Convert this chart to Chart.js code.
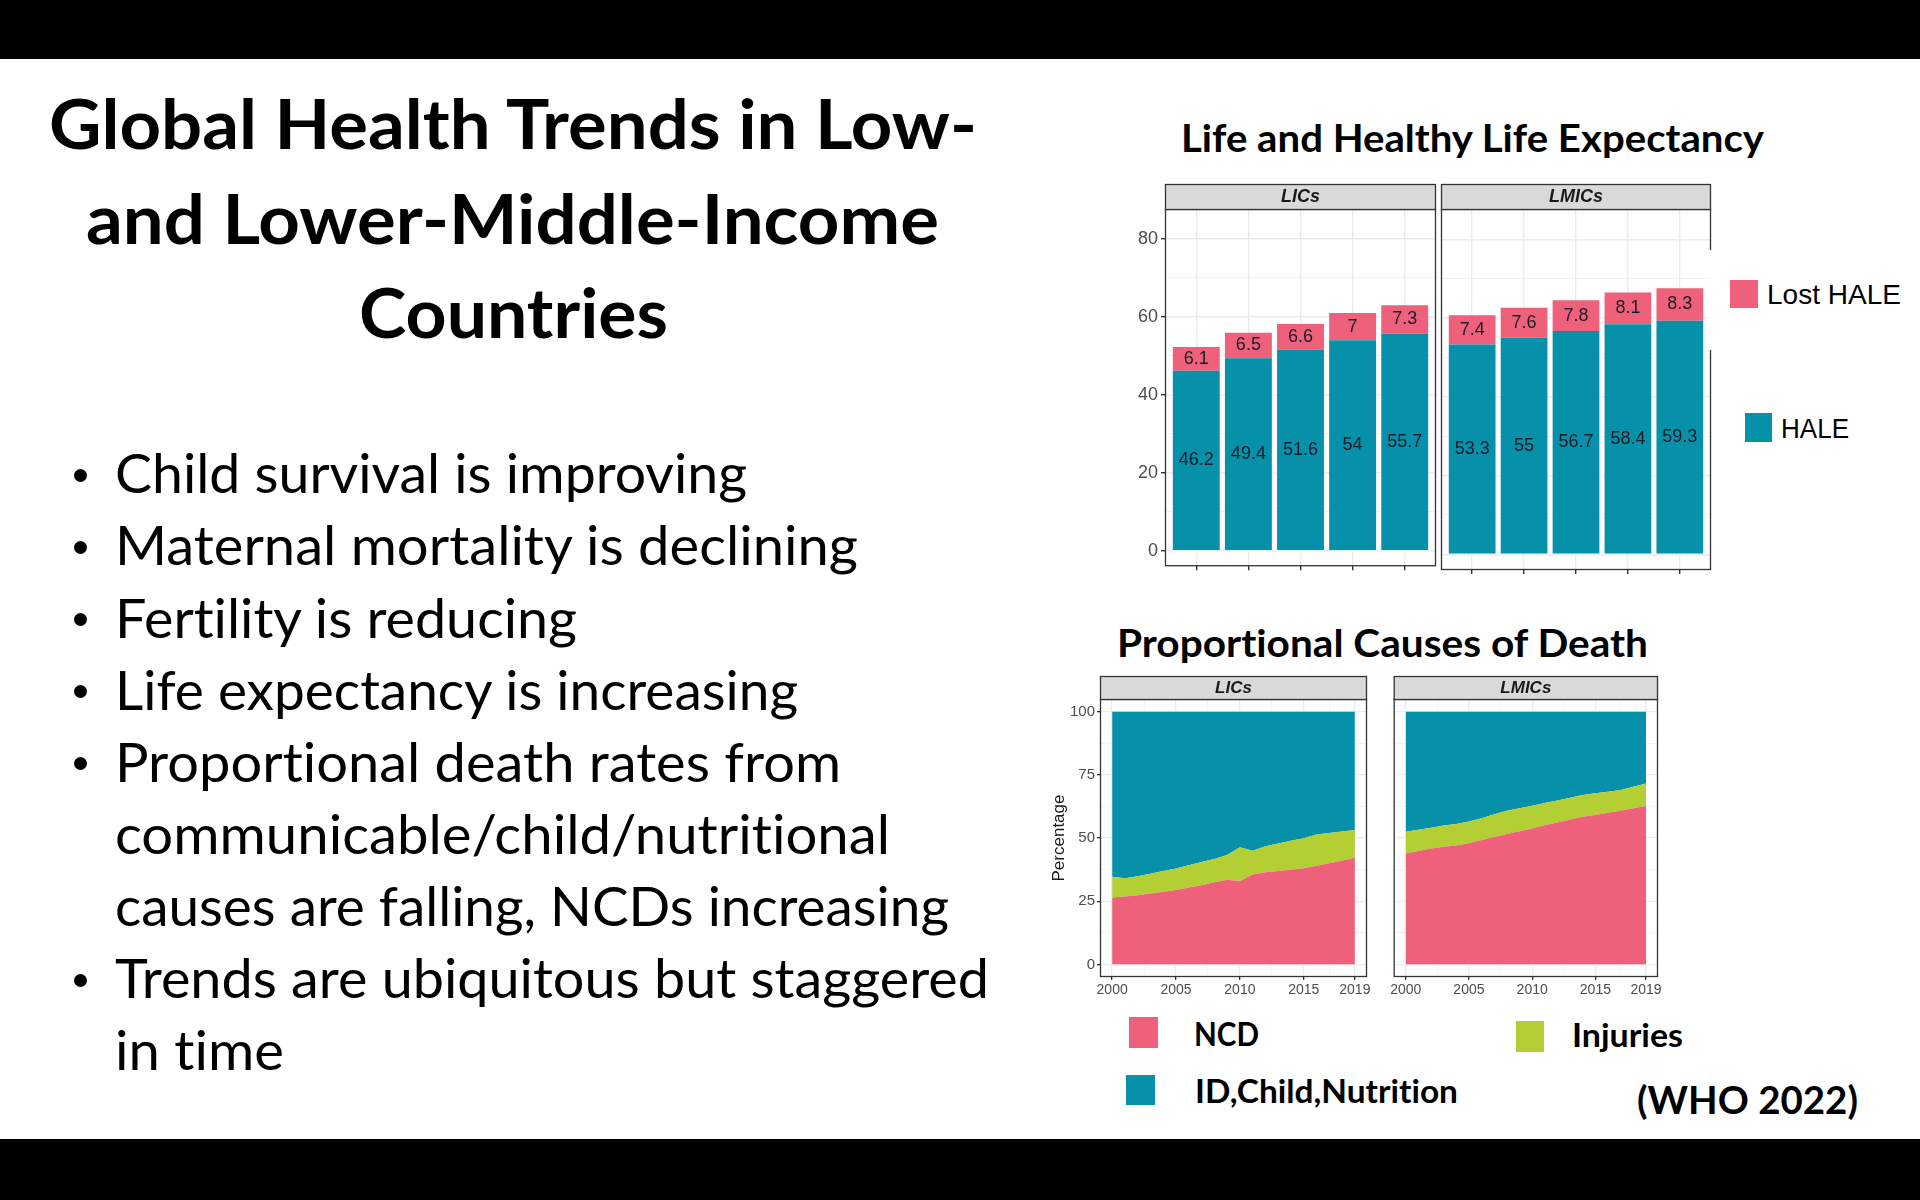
<!DOCTYPE html>
<html>
<head>
<meta charset="utf-8">
<title>Global Health Trends</title>
<script src="https://cdn.jsdelivr.net/npm/chart.js@4.4.1/dist/chart.umd.min.js"></script>
<style>
  html, body { margin: 0; padding: 0; }
  body { width: 1920px; height: 1200px; position: relative; overflow: hidden; background: #ffffff; }
  .band { position: absolute; left: 0; width: 1920px; background: #000000; }
  .txt { position: absolute; white-space: nowrap; color: #000000; transform-origin: 0 0;
         font-variant-ligatures: none; font-feature-settings: "liga" 0, "clig" 0; }
  .sw { position: absolute; }
  .dot { position: absolute; width: 13px; height: 13px; border-radius: 7px; background: #000000; }
  canvas { position: absolute; }
</style>
</head>
<body>
<div class="band" style="top:0;height:59px"></div>
<div class="band" style="top:1139px;height:61px"></div>
<canvas id="hale_lic"></canvas>
<canvas id="hale_lmic"></canvas>
<canvas id="cod_lic"></canvas>
<canvas id="cod_lmic"></canvas>
<div style="position:absolute;left:1708px;top:250px;width:8px;height:100px;background:#fff"></div>
<script>
// ---- chart values ----
const barCategories = ['2000', '2005', '2010', '2015', '2019'];
const licHale = [46.2, 49.4, 51.6, 54, 55.7];
const licLost = [6.1, 6.5, 6.6, 7, 7.3];
const lmicHale = [53.3, 55, 56.7, 58.4, 59.3];
const lmicLost = [7.4, 7.6, 7.8, 8.1, 8.3];
const haleTicks = [0, 20, 40, 60, 80];

const years = [2000, 2001, 2002, 2003, 2004, 2005, 2006, 2007, 2008, 2009,
               2010, 2011, 2012, 2013, 2014, 2015, 2016, 2017, 2018, 2019];
const yearTicks = [2000, 2005, 2010, 2015, 2019];
const pctTicks = [0, 25, 50, 75, 100];

const licNcd = [26.5, 26.9, 27.3, 28.0, 28.7, 29.4, 30.4, 31.3, 32.5, 33.5,
                33.0, 35.6, 36.4, 36.9, 37.4, 38.0, 39.0, 40.0, 41.1, 42.2];
const licInjuries = [8.2, 7.2, 7.6, 7.9, 8.2, 8.5, 8.8, 9.2, 9.2, 9.8,
                     13.3, 9.4, 10.3, 10.9, 11.5, 11.9, 12.4, 12.0, 11.5, 11.0];
const licIdChild = [65.3, 65.9, 65.1, 64.1, 63.1, 62.1, 60.8, 59.5, 58.3, 56.7,
                    53.7, 55.0, 53.3, 52.2, 51.1, 50.1, 48.6, 48.0, 47.4, 46.8];

const lmicNcd = [43.9, 44.9, 45.8, 46.5, 47.0, 47.9, 49.2, 50.4, 51.6, 52.7,
                 53.8, 55.0, 56.1, 57.3, 58.4, 59.1, 60.0, 60.8, 61.8, 62.7];
const lmicInjuries = [8.6, 8.4, 8.3, 8.4, 8.5, 8.6, 8.6, 9.0, 9.2, 9.1,
                      9.0, 8.8, 8.7, 8.6, 8.6, 8.6, 8.3, 8.2, 8.5, 8.9];
const lmicIdChild = [47.5, 46.7, 45.9, 45.1, 44.5, 43.5, 42.2, 40.6, 39.2, 38.2,
                     37.2, 36.2, 35.2, 34.1, 33.0, 32.3, 31.7, 31.0, 29.7, 28.4];

const slideTitle = ['Global Health Trends in Low-', 'and Lower-Middle-Income', 'Countries'];
const bulletLines = [
    ['Child survival is improving', true],
    ['Maternal mortality is declining', true],
    ['Fertility is reducing', true],
    ['Life expectancy is increasing', true],
    ['Proportional death rates from', true],
    ['communicable/child/nutritional', false],
    ['causes are falling, NCDs increasing', false],
    ['Trends are ubiquitous but staggered', true],
    ['in time', false]
];

const PINK = '#ef607a';
const TEAL = '#0790a9';
const GREEN = '#b3cf33';
const LATO = 'Lato, "Open Sans", sans-serif';
const ARIAL = '"Liberation Sans", Arial, sans-serif';

Chart.defaults.font.family = ARIAL;

// ---- slide text ----
function putText(str, x0, x1, cy, size, bold, family, mid) {
    const el = document.createElement('div');
    el.className = 'txt';
    el.textContent = str;
    el.style.fontFamily = family;
    el.style.fontWeight = bold ? '700' : '400';
    el.style.fontSize = size + 'px';
    el.style.lineHeight = size + 'px';
    el.style.left = x0 + 'px';
    el.style.top = Math.round(cy - mid * size) + 'px';
    document.body.appendChild(el);
    const w = el.getBoundingClientRect().width;
    el.style.transform = 'scaleX(' + ((x1 - x0) / w).toFixed(4) + ')';
}

function putBox(x, y, w, h, color) {
    const el = document.createElement('div');
    el.className = 'sw';
    el.style.left = x + 'px';
    el.style.top = y + 'px';
    el.style.width = w + 'px';
    el.style.height = h + 'px';
    el.style.background = color;
    document.body.appendChild(el);
}

const titleSpans = [[49, 977, 125.5], [86, 939, 220], [359, 668, 314]];
slideTitle.forEach((line, i) => {
    const s = titleSpans[i];
    putText(line, s[0], s[1], s[2], 68, true, LATO, 0.53);
});

const bulletEnds = [747, 858, 577, 798, 841, 890, 949, 989, 284];
bulletLines.forEach((b, i) => {
    const cy = 475 + 72.1 * i;
    putText(b[0], 115, bulletEnds[i], cy, 54, false, LATO, 0.53);
    if (b[1]) {
        const d = document.createElement('div');
        d.className = 'dot';
        d.style.left = '74px';
        d.style.top = Math.round(cy - 6) + 'px';
        document.body.appendChild(d);
    }
});

putText('Life and Healthy Life Expectancy', 1181, 1764, 138, 38, true, LATO, 0.53);
putText('Proportional Causes of Death', 1117, 1648, 643, 38, true, LATO, 0.53);

putBox(1730, 280, 28, 28, PINK);
putText('Lost HALE', 1767, 1901, 295, 28, false, ARIAL, 0.49);
putBox(1745, 413, 27, 29, TEAL);
putText('HALE', 1781, 1849, 429, 28, false, ARIAL, 0.49);

putBox(1129, 1017, 29, 31, PINK);
putText('NCD', 1194, 1259, 1034.5, 33, true, LATO, 0.53);
putBox(1126, 1075, 29, 30, TEAL);
putText('ID,Child,Nutrition', 1195, 1458, 1091, 33, true, LATO, 0.53);
putBox(1516, 1021, 28, 31, GREEN);
putText('Injuries', 1572, 1683, 1035, 33, true, LATO, 0.53);
putText('(WHO 2022)', 1637, 1858, 1100, 38, true, LATO, 0.53);

// ---- chart helpers ----
const panelFrame = {
    id: 'panelFrame',
    afterDraw(chart, args, opts) {
        const a = chart.chartArea;
        const ctx = chart.ctx;
        const w = a.right - a.left;
        ctx.save();
        ctx.lineWidth = 1.3;
        ctx.strokeStyle = '#333333';
        ctx.strokeRect(a.left + 0.5, a.top + 0.5, w - 1, a.bottom - a.top - 1);
        ctx.fillStyle = '#d9d9d9';
        ctx.fillRect(a.left + 0.5, a.top - opts.strip + 0.5, w - 1, opts.strip);
        ctx.strokeRect(a.left + 0.5, a.top - opts.strip + 0.5, w - 1, opts.strip);
        ctx.fillStyle = '#1a1a1a';
        ctx.font = 'italic bold ' + opts.size + 'px ' + ARIAL;
        ctx.textAlign = 'center';
        ctx.textBaseline = 'middle';
        ctx.fillText(opts.title, a.left + w / 2, a.top - opts.strip / 2 + 1);
        ctx.restore();
    }
};

const barLabels = {
    id: 'barLabels',
    afterDatasetsDraw(chart) {
        const ctx = chart.ctx;
        ctx.save();
        ctx.font = '18px ' + ARIAL;
        ctx.fillStyle = '#1c1c28';
        ctx.textAlign = 'center';
        ctx.textBaseline = 'middle';
        chart.data.datasets.forEach((ds, i) => {
            chart.getDatasetMeta(i).data.forEach((bar, j) => {
                ctx.fillText(String(ds.data[j].y), bar.x, (bar.y + bar.base) / 2);
            });
        });
        ctx.restore();
    }
};

// area = [left, top, right, bottom] of the panel, m = margins around it
function sizeCanvas(id, area, m) {
    const c = document.getElementById(id);
    c.width = area[2] - area[0] + m.l + m.r;
    c.height = area[3] - area[1] + m.t + m.b;
    c.style.left = (area[0] - m.l) + 'px';
    c.style.top = (area[1] - m.t) + 'px';
    return c;
}

function haleChart(id, title, hale, lost, area, m, showY) {
    const c = sizeCanvas(id, area, m);
    const toPts = vals => vals.map((v, i) => ({ x: i + 1, y: v }));
    return new Chart(c, {
        type: 'bar',
        data: {
            datasets: [
                { label: 'HALE', data: toPts(hale), backgroundColor: TEAL, borderWidth: 0 },
                { label: 'Lost HALE', data: toPts(lost), backgroundColor: PINK, borderWidth: 0 }
            ]
        },
        options: {
            responsive: false,
            animation: false,
            events: [],
            layout: { padding: { left: showY ? 0 : m.l, top: m.t, right: m.r, bottom: 0 } },
            datasets: { bar: { categoryPercentage: 1, barPercentage: 0.9 } },
            plugins: {
                legend: { display: false },
                tooltip: { enabled: false },
                panelFrame: { title: title, strip: 25, size: 18 }
            },
            scales: {
                x: {
                    type: 'linear', stacked: true, offset: false,
                    min: 0.4, max: barCategories.length + 0.6,
                    afterBuildTicks: s => { s.ticks = barCategories.map((c, i) => ({ value: i + 1 })); },
                    afterFit: s => { s.height = m.b; },
                    ticks: { display: false },
                    border: { display: false },
                    grid: { offset: false, color: '#ebebeb', lineWidth: 1.4, tickLength: 4, tickColor: '#333333' }
                },
                y: {
                    stacked: true, min: -4, max: 87.7,
                    afterBuildTicks: s => {
                        const t = [];
                        for (let v = 0; v <= haleTicks[haleTicks.length - 1]; v += 10) t.push({ value: v });
                        s.ticks = t;
                    },
                    afterFit: s => { s.width = showY ? m.l : 0; },
                    border: { display: false },
                    ticks: {
                        display: showY, padding: 3, color: '#4d4d4d', font: { size: 18 },
                        callback: v => haleTicks.includes(v) ? String(v) : ''
                    },
                    grid: {
                        color: '#ebebeb',
                        lineWidth: c => (c.tick && haleTicks.includes(c.tick.value)) ? 1.4 : 0.7,
                        drawTicks: showY,
                        tickLength: 4,
                        tickColor: c => (c.tick && haleTicks.includes(c.tick.value)) ? '#333333' : 'rgba(0,0,0,0)'
                    }
                }
            }
        },
        plugins: [barLabels, panelFrame]
    });
}

function codChart(id, title, ncd, inj, idc, area, m, showY) {
    const c = sizeCanvas(id, area, m);
    const toPts = vals => vals.map((v, i) => ({ x: years[i], y: v }));
    const xMinor = [2000, 2002.5, 2005, 2007.5, 2010, 2012.5, 2015, 2017, 2019];
    const yMinor = [0, 12.5, 25, 37.5, 50, 62.5, 75, 87.5, 100];
    return new Chart(c, {
        type: 'line',
        data: {
            datasets: [
                { label: 'NCD', data: toPts(ncd), backgroundColor: PINK, fill: 'origin' },
                { label: 'Injuries', data: toPts(inj), backgroundColor: GREEN, fill: '-1' },
                { label: 'ID,Child,Nutrition', data: toPts(idc), backgroundColor: TEAL, fill: '-1' }
            ]
        },
        options: {
            responsive: false,
            animation: false,
            events: [],
            elements: { point: { radius: 0 }, line: { borderWidth: 0, tension: 0 } },
            layout: { padding: { left: showY ? 0 : m.l, top: m.t, right: m.r, bottom: 0 } },
            plugins: {
                legend: { display: false },
                tooltip: { enabled: false },
                panelFrame: { title: title, strip: 23, size: 17 }
            },
            scales: {
                x: {
                    type: 'linear', min: 1999.05, max: 2019.95,
                    afterBuildTicks: s => { s.ticks = xMinor.map(v => ({ value: v })); },
                    afterFit: s => { s.height = m.b; },
                    border: { display: false },
                    ticks: {
                        autoSkip: false, maxRotation: 0, padding: 2, color: '#4d4d4d', font: { size: 14 },
                        callback: v => yearTicks.includes(v) ? String(v) : ''
                    },
                    grid: {
                        color: '#ebebeb',
                        lineWidth: c => (c.tick && yearTicks.includes(c.tick.value)) ? 1.3 : 0.6,
                        tickLength: 3,
                        tickColor: c => (c.tick && yearTicks.includes(c.tick.value)) ? '#333333' : 'rgba(0,0,0,0)'
                    }
                },
                y: {
                    stacked: true, min: -5, max: 105,
                    afterBuildTicks: s => { s.ticks = yMinor.map(v => ({ value: v })); },
                    afterFit: s => { s.width = showY ? m.l : 0; },
                    border: { display: false },
                    title: {
                        display: showY, text: 'Percentage', color: '#1a1a1a',
                        font: { size: 17 }, padding: { top: 3, bottom: 0 }
                    },
                    ticks: {
                        display: showY, padding: 2, color: '#4d4d4d', font: { size: 15 },
                        callback: v => pctTicks.includes(v) ? String(v) : ''
                    },
                    grid: {
                        color: '#ebebeb',
                        lineWidth: c => (c.tick && pctTicks.includes(c.tick.value)) ? 1.3 : 0.6,
                        drawTicks: showY,
                        tickLength: 3,
                        tickColor: c => (c.tick && pctTicks.includes(c.tick.value)) ? '#333333' : 'rgba(0,0,0,0)'
                    }
                }
            }
        },
        plugins: [panelFrame]
    });
}

haleChart('hale_lic', 'LICs', licHale, licLost, [1165, 209, 1436, 570], { l: 60, t: 27, r: 4, b: 10 }, true);
haleChart('hale_lmic', 'LMICs', lmicHale, lmicLost, [1441, 209, 1711, 570], { l: 3, t: 27, r: 4, b: 10 }, false);
codChart('cod_lic', 'LICs', licNcd, licInjuries, licIdChild, [1100, 699, 1367, 977], { l: 54, t: 25, r: 20, b: 26 }, true);
codChart('cod_lmic', 'LMICs', lmicNcd, lmicInjuries, lmicIdChild, [1391, 699, 1658, 977], { l: 3, t: 25, r: 20, b: 26 }, false);
</script>
</body>
</html>
